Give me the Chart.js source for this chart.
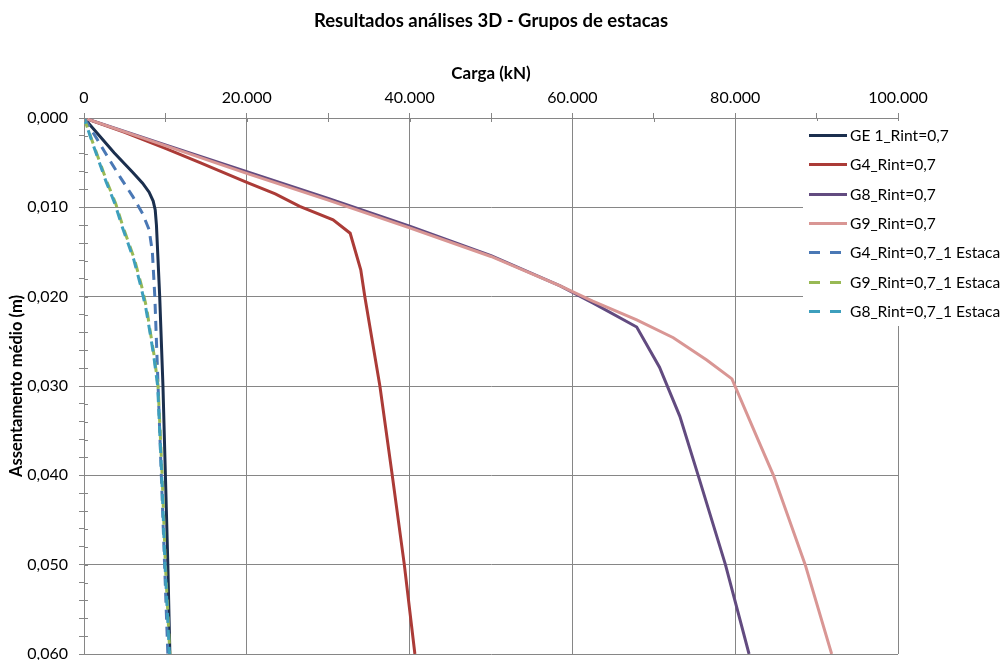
<!DOCTYPE html>
<html>
<head>
<meta charset="utf-8">
<script src="https://cdn.jsdelivr.net/npm/chart.js@4/dist/chart.umd.min.js"></script>
<style>
  body { margin: 0; background: #fff; }
</style>
</head>
<body>
<canvas id="chart" width="1003" height="660"></canvas>
<script>
// carga (kN) x assentamento medio (m)
var ge1Load = [0, 2000, 3700, 6000, 7200, 8000, 8500, 8750, 8900, 9300, 9700, 10000, 10300, 10550];
var ge1Settle = [0, 0.0021, 0.0039, 0.0061, 0.0073, 0.0083, 0.0093, 0.0103, 0.0120, 0.0200, 0.0300, 0.0400, 0.0500, 0.0600];

var g4Load = [0, 5000, 10000, 14250, 20000, 23500, 26500, 30600, 32700, 34000, 34500, 36350, 37870, 39350, 40650];
var g4Settle = [0, 0.0016, 0.0034, 0.0050, 0.0072, 0.0085, 0.0099, 0.0114, 0.0129, 0.0170, 0.0200, 0.0300, 0.0400, 0.0500, 0.0600];

var g8Load = [0, 10000, 20000, 30000, 40000, 50000, 58500, 62500, 67900, 70700, 73200, 75450, 78800, 81700];
var g8Settle = [0, 0.0030, 0.0060, 0.0090, 0.0121, 0.0154, 0.0188, 0.0207, 0.0234, 0.0279, 0.0334, 0.0400, 0.0500, 0.0600];

var g9Load = [0, 10000, 20000, 30000, 40000, 50000, 58500, 62500, 67900, 72400, 76500, 79600, 82800, 84700, 88600, 91850];
var g9Settle = [0, 0.0031, 0.0062, 0.0092, 0.0123, 0.0155, 0.0188, 0.0205, 0.0226, 0.0246, 0.0271, 0.0292, 0.0360, 0.0400, 0.0500, 0.0600];

var g4OneLoad = [0, 1500, 3000, 4500, 6000, 7200, 8000, 8400, 8700, 9100, 9500, 9900, 10300];
var g4OneSettle = [0, 0.0022, 0.0045, 0.0067, 0.0088, 0.0107, 0.0125, 0.0150, 0.0200, 0.0300, 0.0400, 0.0500, 0.0600];

var g9OneLoad = [0, 1100, 2800, 3900, 4800, 6200, 7100, 7700, 8100, 8600, 9100, 9600, 10000, 10550];
var g9OneSettle = [0, 0.0028, 0.0071, 0.0096, 0.0122, 0.0158, 0.0189, 0.0213, 0.0237, 0.0265, 0.0300, 0.0400, 0.0500, 0.0600];

var g8OneLoad = [0, 1050, 2700, 3800, 4700, 6100, 7000, 7600, 8050, 8550, 9050, 9550, 9950, 10500];
var g8OneSettle = [0, 0.0028, 0.0071, 0.0096, 0.0122, 0.0158, 0.0189, 0.0213, 0.0237, 0.0265, 0.0300, 0.0400, 0.0500, 0.0600];

var seriesNames = ["GE 1_Rint=0,7", "G4_Rint=0,7", "G8_Rint=0,7", "G9_Rint=0,7",
  "G4_Rint=0,7_1 Estaca", "G9_Rint=0,7_1 Estaca", "G8_Rint=0,7_1 Estaca"];

var chartTitle = "Resultados análises 3D - Grupos de estacas";

var FONT = "Lato";
var GRID = "#868686";

function pts(xs, ys) {
  return xs.map(function (x, i) { return { x: x, y: ys[i] }; });
}

function fmtThousands(v) {
  return String(Math.round(v)).replace(/\B(?=(\d{3})+(?!\d))/g, ".");
}

function line(label, xs, ys, color, dashed, order, dashOffset) {
  return {
    label: label,
    data: pts(xs, ys),
    borderColor: color,
    backgroundColor: color,
    borderWidth: 3,
    borderDash: dashed ? [10, 7] : [],
    borderDashOffset: dashOffset || 0,
    pointRadius: 0,
    showLine: true,
    tension: 0,
    order: order,
  };
}

var datasets = [
  line(seriesNames[0], ge1Load, ge1Settle, "#1b2f4e", false, 7),
  line(seriesNames[1], g4Load, g4Settle, "#ab3b37", false, 6),
  line(seriesNames[2], g8Load, g8Settle, "#624b80", false, 5),
  line(seriesNames[3], g9Load, g9Settle, "#d99694", false, 4),
  line(seriesNames[4], g4OneLoad, g4OneSettle, "#4a78b5", true, 3),
  line(seriesNames[5], g9OneLoad, g9OneSettle, "#98b954", true, 2),
  line(seriesNames[6], g8OneLoad, g8OneSettle, "#3d9fbd", true, 1, 4),
];

// titulo centrado sobre a area do grafico
var plotTitle = {
  id: "plotTitle",
  afterDraw: function (chart) {
    var c = chart.ctx, a = chart.chartArea;
    c.save();
    c.fillStyle = "#000";
    c.font = "bold 18.5px " + FONT;
    c.textAlign = "center";
    c.textBaseline = "middle";
    c.fillText(chartTitle, (a.left + a.right) / 2, 21);
    c.restore();
  },
};

// marcas de escala que cruzam o eixo, como no Excel
var innerTicks = {
  id: "innerTicks",
  afterDatasetsDraw: function (chart) {
    var c = chart.ctx, xs = chart.scales.x, ys = chart.scales.y;
    c.save();
    c.strokeStyle = GRID;
    c.lineWidth = 1;
    c.beginPath();
    ys.ticks.forEach(function (t) {
      var p = Math.round(ys.getPixelForValue(t.value)) + 0.5;
      c.moveTo(ys.right, p);
      c.lineTo(ys.right + 4, p);
    });
    xs.ticks.forEach(function (t) {
      var p = Math.round(xs.getPixelForValue(t.value)) + 0.5;
      c.moveTo(p, xs.bottom);
      c.lineTo(p, xs.bottom + 4);
    });
    c.stroke();
    c.restore();
  },
};

// legenda desenhada por cima da area do grafico
var overlayLegend = {
  id: "overlayLegend",
  afterDraw: function (chart) {
    var c = chart.ctx;
    var left = 803, top = 121, step = 29.3;
    c.save();
    c.fillStyle = "#fff";
    c.fillRect(left, top, 1003 - left, 205);
    c.font = "15.6px " + FONT;
    c.textBaseline = "middle";
    chart.data.datasets.forEach(function (ds, i) {
      var y = Math.round(135 + i * step) + 0.5;
      c.strokeStyle = ds.borderColor;
      c.lineWidth = 3;
      c.setLineDash(ds.borderDash.length ? [11, 10] : []);
      c.beginPath();
      c.moveTo(809, y);
      c.lineTo(847, y);
      c.stroke();
      c.setLineDash([]);
      c.fillStyle = "#000";
      c.fillText(ds.label, 850, y);
    });
    c.restore();
  },
};

var ctx = document.getElementById("chart").getContext("2d");
var chart = new Chart(ctx, {
  type: "scatter",
  data: { datasets: datasets },
  plugins: [plotTitle, innerTicks, overlayLegend],
  options: {
    responsive: false,
    animation: false,
    layout: { autoPadding: false, padding: { left: 0, right: 105, top: 40, bottom: 6 } },
    plugins: {
      legend: { display: false },
      tooltip: { enabled: false },
      title: { display: false },
    },
    scales: {
      x: {
        type: "linear",
        position: "top",
        min: 0,
        max: 100000,
        afterFit: function (s) {
          s.height = 78;
          s.paddingLeft = 0;
          s.paddingRight = 0;
        },
        title: {
          display: true,
          text: "Carga (kN)",
          color: "#000",
          font: { family: FONT, size: 17, weight: "bold" },
          padding: { top: 23, bottom: 0 },
        },
        ticks: {
          stepSize: 10000,
          autoSkip: false,
          maxRotation: 0,
          color: "#000",
          padding: 6,
          font: { family: FONT, size: 16 },
          callback: function (v) {
            if (v % 20000 !== 0) return "";
            return v === 0 ? "0" : fmtThousands(v);
          },
        },
        grid: {
          color: function (c) {
            return c.tick && c.tick.value % 20000 === 0 ? GRID : "rgba(0,0,0,0)";
          },
          tickColor: GRID,
          tickLength: 5,
        },
        border: { color: GRID },
      },
      y: {
        type: "linear",
        reverse: true,
        min: 0,
        max: 0.06,
        afterFit: function (s) {
          s.width = 84;
          s.paddingTop = 0;
          s.paddingBottom = 0;
        },
        title: {
          display: true,
          text: "Assentamento médio (m)",
          color: "#000",
          font: { family: FONT, size: 16.5, weight: "bold" },
          padding: { top: 7, bottom: 0 },
        },
        ticks: {
          stepSize: 0.002,
          autoSkip: false,
          color: "#000",
          padding: 11,
          font: { family: FONT, size: 16 },
          callback: function (v) {
            var m = Math.round(v * 1000);
            if (m % 10 !== 0) return "";
            return (m / 1000).toFixed(3).replace(".", ",");
          },
        },
        grid: {
          color: function (c) {
            return c.tick && Math.round(c.tick.value * 1000) % 10 === 0 ? GRID : "rgba(0,0,0,0)";
          },
          tickColor: GRID,
          tickLength: 5,
        },
        border: { color: GRID },
      },
    },
  },
});
</script>
</body>
</html>
